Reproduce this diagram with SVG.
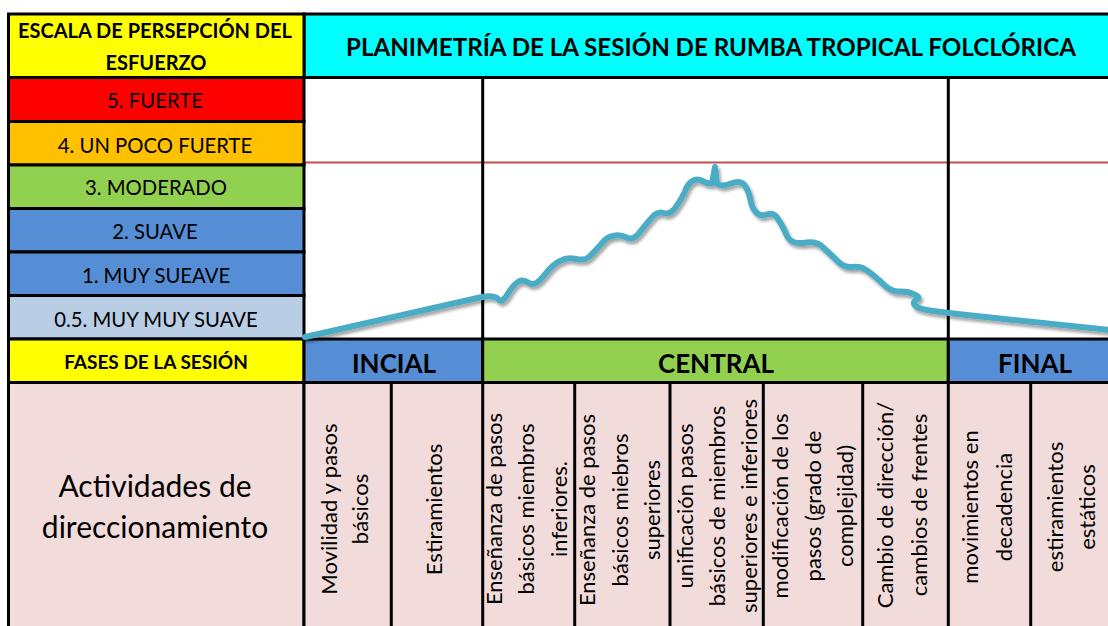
<svg xmlns="http://www.w3.org/2000/svg" width="1108" height="626" viewBox="0 0 1108 626">
<defs>
<style>
.t{font-family:Lato,"Liberation Sans",sans-serif;fill:#000;text-anchor:middle}
.b{font-weight:bold}
.s{font-size:20.3px}
.r{font-size:22px}
.ph{font-size:26px;font-weight:bold}
.cell{stroke:#000;stroke-width:3}
.grid{stroke:#000;stroke-width:3;fill:none}
</style>
<filter id="shadow" x="-5%" y="-20%" width="110%" height="140%">
<feDropShadow dx="2" dy="3" stdDeviation="1.8" flood-color="#000" flood-opacity="0.35"/>
</filter>
</defs>
<rect width="1108" height="626" fill="#fff"/>

<!-- plot area -->
<g id="plot-area">
<rect x="304" y="77.5" width="810" height="261.5" fill="#fff"/>
<line x1="297" y1="162.5" x2="1108" y2="162.5" stroke="#C0504D" stroke-width="2"/>
<line class="grid" x1="482.7" y1="77.5" x2="482.7" y2="339"/>
<line class="grid" x1="948.3" y1="77.5" x2="948.3" y2="339"/>
</g>

<!-- title -->
<g id="title">
<rect class="cell" x="304" y="14" width="810" height="63.5" fill="#00FFFF"/>
<text class="t b" x="711" y="56" font-size="25" textLength="730" lengthAdjust="spacingAndGlyphs">PLANIMETRÍA DE LA SESIÓN DE RUMBA TROPICAL FOLCLÓRICA</text>
</g>

<!-- effort scale -->
<g id="scale-header">
<rect class="cell" x="8.5" y="14" width="295.5" height="63.5" fill="#FFFF00"/>
<text class="t b" x="155" y="38" font-size="20">ESCALA DE PERSEPCIÓN DEL</text>
<text class="t b" x="156" y="70" font-size="20">ESFUERZO</text>
</g>
<g id="scale-5">
<rect class="cell" x="8.5" y="77.5" width="295.5" height="44" fill="#FF0000"/>
<text class="t s" x="155" y="108">5. FUERTE</text>
</g>
<g id="scale-4">
<rect class="cell" x="8.5" y="121.5" width="295.5" height="43.5" fill="#FFC000"/>
<text class="t s" x="155" y="153">4. UN POCO FUERTE</text>
</g>
<g id="scale-3">
<rect class="cell" x="8.5" y="165" width="295.5" height="43.5" fill="#92D050"/>
<text class="t s" x="156" y="195">3. MODERADO</text>
</g>
<g id="scale-2">
<rect class="cell" x="8.5" y="208.5" width="295.5" height="43.5" fill="#558ED5"/>
<text class="t s" x="155" y="239">2. SUAVE</text>
</g>
<g id="scale-1">
<rect class="cell" x="8.5" y="252" width="295.5" height="43.5" fill="#558ED5"/>
<text class="t s" x="156" y="283">1. MUY SUEAVE</text>
</g>
<g id="scale-05">
<rect class="cell" x="8.5" y="295.5" width="295.5" height="43.5" fill="#B9CDE5"/>
<text class="t s" x="156" y="327">0.5. MUY MUY SUAVE</text>
</g>
<g id="phases-label">
<rect class="cell" x="8.5" y="339" width="295.5" height="43.5" fill="#FFFF00"/>
<text class="t b" x="156" y="369" font-size="19">FASES DE LA SESIÓN</text>
</g>

<!-- phases -->
<g id="phase-inicial">
<rect class="cell" x="304" y="339" width="178.7" height="43.5" fill="#558ED5"/>
<text class="t ph" x="394" y="372.5">INCIAL</text>
</g>
<g id="phase-central">
<rect class="cell" x="482.7" y="339" width="465.6" height="43.5" fill="#92D050"/>
<text class="t ph" x="716" y="372.5">CENTRAL</text>
</g>
<g id="phase-final">
<rect class="cell" x="948.3" y="339" width="170" height="43.5" fill="#558ED5"/>
<text class="t ph" x="1035" y="372.5">FINAL</text>
</g>

<!-- activities -->
<g id="activities-label">
<rect class="cell" x="8.5" y="382.5" width="295.5" height="250" fill="#F2DCDB"/>
<text class="t" x="155" y="497" font-size="30">Actividades de</text>
<text class="t" x="155" y="538" font-size="30">direccionamiento</text>
</g>
<g id="activities">
<rect class="cell" x="304" y="382.5" width="820" height="250" fill="#F2DCDB"/>
<line class="grid" x1="391.3" y1="382.5" x2="391.3" y2="630"/>
<line class="grid" x1="482.7" y1="382.5" x2="482.7" y2="630"/>
<line class="grid" x1="574.7" y1="382.5" x2="574.7" y2="630"/>
<line class="grid" x1="670" y1="382.5" x2="670" y2="630"/>
<line class="grid" x1="763.3" y1="382.5" x2="763.3" y2="630"/>
<line class="grid" x1="862.7" y1="382.5" x2="862.7" y2="630"/>
<line class="grid" x1="948.3" y1="382.5" x2="948.3" y2="630"/>
<line class="grid" x1="1030.7" y1="382.5" x2="1030.7" y2="630"/>
</g>
<g id="act-1"><text class="t r" transform="translate(337,509) rotate(-90)"><tspan x="0" y="0">Movilidad y pasos</tspan><tspan x="0" y="31">básicos</tspan></text></g>
<g id="act-2"><text class="t r" transform="translate(442,509.5) rotate(-90)">Estiramientos</text></g>
<g id="act-3"><text class="t r" transform="translate(502,509) rotate(-90)"><tspan x="0" y="0">Enseñanza de pasos</tspan><tspan x="0" y="32">básicos miembros</tspan><tspan x="0" y="65">inferiores.</tspan></text></g>
<g id="act-4"><text class="t r" transform="translate(595,510) rotate(-90)"><tspan x="0" y="0">Enseñanza de pasos</tspan><tspan x="0" y="33">básicos miebros</tspan><tspan x="0" y="65">superiores</tspan></text></g>
<g id="act-5"><text class="t r" transform="translate(693,506) rotate(-90)"><tspan x="0" y="0">unificación pasos</tspan><tspan x="0" y="32">básicos de miembros</tspan><tspan x="0" y="64">superiores e inferiores</tspan></text></g>
<g id="act-6"><text class="t r" transform="translate(788,506) rotate(-90)"><tspan x="0" y="0">modificación de los</tspan><tspan x="0" y="33">pasos (grado de</tspan><tspan x="0" y="65">complejidad)</tspan></text></g>
<g id="act-7"><text class="t r" transform="translate(893,505) rotate(-90)"><tspan x="0" y="0">Cambio de dirección/</tspan><tspan x="0" y="34">cambios de frentes</tspan></text></g>
<g id="act-8"><text class="t r" transform="translate(978,507) rotate(-90)"><tspan x="0" y="0">movimientos en</tspan><tspan x="0" y="34">decadencia</tspan></text></g>
<g id="act-9"><text class="t r" transform="translate(1063,507) rotate(-90)"><tspan x="0" y="0">estiramientos</tspan><tspan x="0" y="32">estáticos</tspan></text></g>

<!-- effort curve -->
<g id="connectors">
<path filter="url(#shadow)" fill="none" stroke="#4BACC6" stroke-width="6" stroke-linecap="round" stroke-linejoin="round"
d="M305,337 L482,297 Q494,295 498,299 Q502,304 508,293.5 Q514,284 518.5,281.5 Q523,279 529,283 Q535,287 544,275.5 Q553,264 560,261 Q567,257 576,259 Q585,261 589.5,256.5 Q594,252 600,245.5 Q606,237 613,236 Q620,234 626.5,237.5 Q633,241 639.5,232.5 Q646,224 651.5,218 Q657,211 663.5,213 Q670,215 675.5,207.5 Q681,200 684.5,192.5 Q688,183 692.5,181 Q697,178 702.5,181 Q708,184 712,183.5 L715,167 L717,184 Q722,187 731,183.5 Q740,180 744,184.5 Q748,189 750,198 Q752,209 756,212 Q760,217 766.5,214.5 Q773,212 777,217.5 Q781,223 784.5,230.5 Q788,240 792.5,241.5 Q797,244 806.5,242.5 Q816,241 821.5,246 Q827,251 835,258.5 Q843,268 851.5,267 Q860,266 865.5,269.5 Q871,273 880.5,281.5 Q890,292 899,291.5 Q908,291 914.5,294.5 Q921,297 916.5,299.5 Q912,302 915,305.5 Q918,309 933,311 Q948,313 960,314.3 L1110,330"/>
</g>
</svg>
